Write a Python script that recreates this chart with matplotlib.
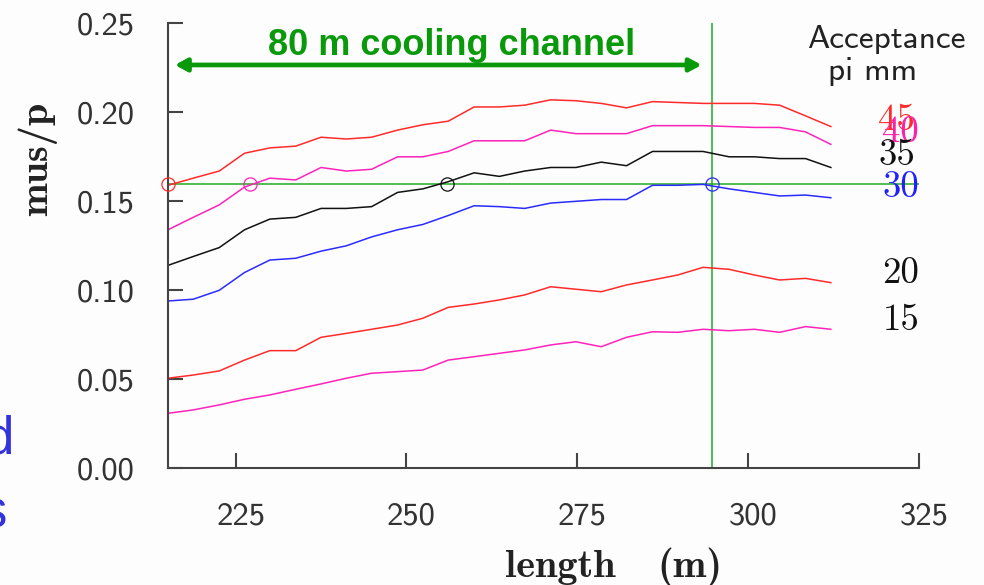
import matplotlib
matplotlib.use('Agg')
import matplotlib.pyplot as plt
from matplotlib.transforms import ScaledTranslation

# ---------------- data ----------------
length_m = [215.1, 218.8, 222.6, 226.3, 230.0, 233.8, 237.5, 241.2, 244.9,
            248.7, 252.4, 256.1, 259.9, 263.6, 267.3, 271.1, 274.8, 278.5,
            282.2, 286.0, 289.7, 293.4, 297.2, 300.9, 304.6, 308.4, 312.1]

acc45 = [0.159, 0.163, 0.167, 0.177, 0.180, 0.181, 0.186, 0.185, 0.186,
         0.190, 0.193, 0.195, 0.203, 0.203, 0.204, 0.207, 0.2065, 0.205,
         0.2025, 0.206, 0.2055, 0.205, 0.205, 0.205, 0.204, 0.198, 0.192]
acc40 = [0.134, 0.141, 0.148, 0.158, 0.163, 0.162, 0.169, 0.167, 0.168,
         0.175, 0.175, 0.178, 0.184, 0.184, 0.184, 0.190, 0.188, 0.188,
         0.188, 0.1925, 0.1925, 0.1925, 0.192, 0.1915, 0.1915, 0.189, 0.182]
acc35 = [0.114, 0.119, 0.124, 0.134, 0.140, 0.141, 0.146, 0.146, 0.147,
         0.155, 0.157, 0.161, 0.166, 0.164, 0.167, 0.169, 0.169, 0.172,
         0.170, 0.178, 0.178, 0.178, 0.175, 0.175, 0.174, 0.174, 0.169]
acc30 = [0.094, 0.095, 0.100, 0.110, 0.117, 0.118, 0.122, 0.125, 0.130,
         0.134, 0.137, 0.142, 0.1475, 0.147, 0.146, 0.149, 0.150, 0.151,
         0.151, 0.159, 0.159, 0.1595, 0.157, 0.155, 0.153, 0.1535, 0.152]
acc20 = [0.0506, 0.0524, 0.0547, 0.0608, 0.0661, 0.0661, 0.0736, 0.0758,
         0.0781, 0.0805, 0.0843, 0.0904, 0.0923, 0.0946, 0.0974, 0.1020,
         0.1006, 0.0992, 0.1030, 0.1058, 0.1086, 0.1129, 0.1118, 0.1086,
         0.1058, 0.1067, 0.1043]
acc15 = [0.0309, 0.0328, 0.0356, 0.0388, 0.0412, 0.0444, 0.0474, 0.0506,
         0.0534, 0.0543, 0.0552, 0.0608, 0.0627, 0.0646, 0.0665, 0.0693,
         0.0711, 0.0683, 0.0736, 0.0767, 0.0764, 0.0781, 0.0773, 0.0781,
         0.0764, 0.0796, 0.0781]

series = [acc45, acc40, acc35, acc30, acc20, acc15]
series_labels = ['45', '40', '35', '30', '20', '15']
series_colors = ['#ff2a2a', '#ff22bb', '#111111', '#2a2aff', '#ff2a2a', '#ff22bb']
label_colors = ['#ff2a2a', '#ff1faa', '#111111', '#2020ff', '#111111', '#111111']

target_mus = 0.16
crossing_x = [215.1, 227.1, 255.9, 294.7]
crossing_colors = ['#ff2a2a', '#ff22bb', '#111111', '#2a2aff']
channel_end = 294.7
arrow_x = [216.1, 293.2]
arrow_y = 0.2266

xticks = [225, 250, 275, 300, 325]
yticks = [0.00, 0.05, 0.10, 0.15, 0.20, 0.25]
ytick_labels = ['0.00', '0.05', '0.10', '0.15', '0.20', '0.25']

# ---------------- figure ----------------
plt.rcParams['axes.unicode_minus'] = False
W, H = 984, 585
fig = plt.figure(figsize=(W / 100, H / 100), dpi=100)
fig.patch.set_facecolor('#fdfdfd')


def fx(px):
    return px / W


def fy(py):
    return 1 - py / H


ax = fig.add_axes([fx(168), fy(468.3), (919 - 168) / W, (468.3 - 23.3) / H])
ax.set_facecolor('none')

for ys, c in zip(series, series_colors):
    ax.plot(length_m, ys, color=c, lw=1.1)

green = '#22aa22'
ax.axhline(target_mus, color=green, lw=1.1, zorder=1)
ax.axvline(channel_end, color=green, lw=1.1, zorder=1)

for xc, c in zip(crossing_x, crossing_colors):
    ax.plot([xc], [target_mus], 'o', mfc='none', mec=c, ms=9.5, mew=0.9,
            clip_on=False, zorder=5)

ax.annotate('', xy=(arrow_x[0], arrow_y), xytext=(arrow_x[1], arrow_y),
            arrowprops=dict(arrowstyle='<|-|>,head_length=0.7,head_width=0.38',
                            mutation_scale=10, lw=3.4, color='#0a990a',
                            shrinkA=0, shrinkB=0))

ax.set_xlim(215.1, 325)
ax.set_ylim(0, 0.25)

for s in ['top', 'right']:
    ax.spines[s].set_visible(False)
for s in ['left', 'bottom']:
    ax.spines[s].set_color('#444444')
    ax.spines[s].set_linewidth(1.5)

ax.set_xticks(xticks)
ax.set_xticklabels([str(t) for t in xticks])
ax.set_yticks(yticks)
ax.set_yticklabels(ytick_labels)
ax.tick_params(direction='in', length=11, width=1.5, color='#444444',
               labelsize=23.5, labelcolor='#333333', pad=24)
for lab in ax.get_xticklabels() + ax.get_yticklabels():
    lab.set_fontfamily('cmss10')
for lab in ax.get_xticklabels():
    lab.set_transform(lab.get_transform() +
                      ScaledTranslation(5 / 100, 0, fig.dpi_scale_trans))

# series labels
label_pos = [(896, 130), (900, 142), (897, 165), (901, 197), (901, 283), (901, 330)]
for lab, c, (px, py) in zip(series_labels, label_colors, label_pos):
    fig.text(fx(px), fy(py), lab, color=c, fontsize=26.5, family='cmr10',
             ha='center', va='baseline')

fig.text(fx(886), fy(48), 'Acceptance', fontsize=24, family='cmss10',
         color='#222222', ha='center', va='baseline')
fig.text(fx(872.5), fy(80), 'pi mm', fontsize=24, family='cmss10',
         color='#222222', ha='center', va='baseline')

fig.text(fx(451.5), fy(55), '80 m cooling channel', fontsize=26,
         fontweight='bold', family='Liberation Sans', color='#0a990a',
         ha='center', va='baseline')

# axis labels
fig.text(fx(37.5), fy(158.5), 'mus/p', rotation=90, fontsize=29,
         family='cmb10', color='#222222', ha='center', va='center')
fig.text(fx(505), fy(577), 'length', fontsize=29, family='cmb10',
         color='#222222', ha='left', va='baseline')
fig.text(fx(657), fy(577), '(m)', fontsize=29, family='cmb10',
         color='#222222', ha='left', va='baseline')

# clipped slide text fragments at the left edge
fig.text(fx(14), fy(453), 'd', fontsize=38, family='Liberation Sans',
         color='#3333dd', ha='right', va='baseline')
fig.text(fx(7), fy(528), 's', fontsize=38, family='Liberation Sans',
         color='#3333dd', ha='right', va='baseline')

fig.savefig('out.png', dpi=100, facecolor=fig.get_facecolor())
